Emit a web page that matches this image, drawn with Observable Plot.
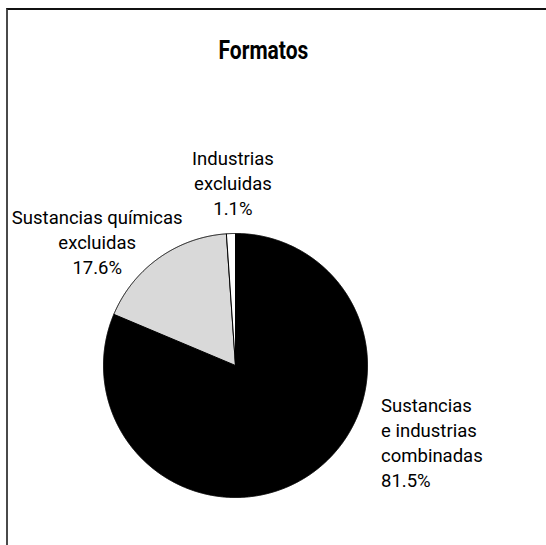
<!DOCTYPE html>
<html>
<head>
<meta charset="utf-8">
<script src="https://cdn.jsdelivr.net/npm/d3@7"></script>
<script src="https://cdn.jsdelivr.net/npm/@observablehq/plot@0.6"></script>
<style>
  html, body { margin: 0; padding: 0; background: #fff; }
  #wrap { position: relative; width: 546px; height: 545px; overflow: hidden; background: #fff;
          font-family: Roboto, "Liberation Sans", sans-serif; }
  #frame { position: absolute; left: 6px; top: 8px; width: 700px; height: 700px;
           border-left: 2px solid #4a4a4a; border-top: 2px solid #111; box-sizing: border-box; }
  #title { position: relative; width: 526px; height: 80px; text-align: center;
           font-weight: bold; font-size: 25px; line-height: 24px; padding-top: 39px; box-sizing: border-box; color: #000; }
  #title span { display: inline-block; transform: scaleX(0.84); transform-origin: center; }
  #chart { position: relative; }
  #chart svg { display: block; }
</style>
</head>
<body>
<div id="wrap">
  <div id="frame"></div>
  <div id="title"><span>Formatos</span></div>
  <div id="chart"></div>
</div>
<script>
// ---- data ----
const categories = ["Sustancias e industrias combinadas", "Sustancias químicas excluidas", "Industrias excluidas"];
const values = [81.5, 17.6, 1.1];
const labels = ["Sustancias\ne industrias\ncombinadas\n81.5%", "Sustancias químicas\nexcluidas\n17.6%", "Industrias\nexcluidas\n1.1%"];

// ---- style / layout ----
const colors = ["#000000", "#d9d9d9", "#ffffff"];
const labelLayout = [
  {dx: 72.5, dy: -81.4, anchor: "start"},
  {dx: -61.5, dy: -52, anchor: "middle"},
  {dx: 2, dy: -86, anchor: "middle"}
];
const font = "Roboto, 'Liberation Sans', sans-serif";
const fontSize = 18.5;

const table = categories.map((name, i) => ({name, value: values[i], label: labels[i]}));
const arcs = d3.pie().sort(null).value(d => d.value).startAngle(0).endAngle(2 * Math.PI)(table);

// slice outlines as polygons (center -> arc -> center), angle clockwise from 12 o'clock
const step = Math.PI / 720;
const pts = [];
arcs.forEach(a => {
  const name = a.data.name;
  pts.push({name, x: 0, y: 0});
  const n = Math.max(2, Math.ceil((a.endAngle - a.startAngle) / step));
  for (let k = 0; k <= n; k++) {
    const t = a.startAngle + (a.endAngle - a.startAngle) * k / n;
    pts.push({name, x: Math.sin(t), y: Math.cos(t)});
  }
  pts.push({name, x: 0, y: 0});
});

const labelMarks = arcs.map((a, i) => {
  const m = (a.startAngle + a.endAngle) / 2;
  const L = labelLayout[i];
  return Plot.text([{x: Math.sin(m), y: Math.cos(m), text: a.data.label}], {
    x: "x", y: "y", text: "text",
    dx: L.dx, dy: L.dy, textAnchor: L.anchor, lineAnchor: "top",
    lineHeight: 25 / fontSize, fontSize, fontFamily: font, fill: "#000"
  });
});

const chart = Plot.plot({
  width: 546,
  height: 465,
  margin: 0,
  style: {background: "transparent", fontFamily: font},
  x: {domain: [-1, 1], range: [103, 367], axis: null},
  y: {domain: [-1, 1], range: [417, 153], axis: null},
  color: {domain: categories, range: colors},
  marks: [
    Plot.line(pts, {x: "x", y: "y", z: "name", fill: "name", stroke: "#000", strokeWidth: 1, curve: "linear"}),
    ...labelMarks
  ]
});
document.getElementById("chart").appendChild(chart);
</script>
</body>
</html>
